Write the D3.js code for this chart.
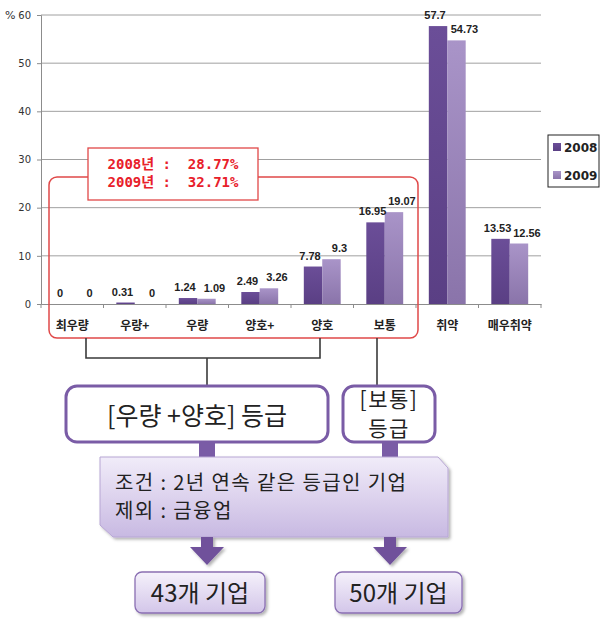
<!DOCTYPE html>
<html><head><meta charset="utf-8">
<script src="https://cdn.jsdelivr.net/npm/d3@7"></script>
<style>body{margin:0;background:#fff}svg{display:block}</style>
</head><body>
<svg id="c" width="604" height="620"></svg>
<script>
const categories = ["최우량","우량+","우량","양호+","양호","보통","취약","매우취약"];
const series = ["2008","2009"];
const values2008 = [0,0.31,1.24,2.49,7.78,16.95,57.7,13.53];
const values2009 = [0,0,1.09,3.26,9.3,19.07,54.73,12.56];
const yTicks = [0,10,20,30,40,50,60];
const summaryLines = ["2008년 :  28.77%","2009년 :  32.71%"];
const groupLabels = ["[우량 +양호] 등급", ["[보통]","등급"]];
const conditionLines = ["조건 : 2년 연속 같은 등급인 기업","제외 : 금융업"];
const resultLabels = ["43개 기업","50개 기업"];

(function(){
const font = "'Noto Sans CJK KR','Noto Sans',sans-serif";
const svg = d3.select("#c");
const defs = svg.append("defs");
function grad(id, c1, c2){
  const g = defs.append("linearGradient").attr("id",id).attr("x1",0).attr("y1",0).attr("x2",0).attr("y2",1);
  g.append("stop").attr("offset","0%").attr("stop-color",c1);
  g.append("stop").attr("offset","100%").attr("stop-color",c2);
}
grad("g2008","#6b4e98","#5a3f84");
grad("g2009","#a994c8","#8a74aa");
grad("gCond","#f1ecf9","#c8b9e2");
grad("gRes","#f5f1fb","#d3c6e9");
const sh = defs.append("filter").attr("id","shadow").attr("x","-10%").attr("y","-10%").attr("width","130%").attr("height","140%");
sh.append("feDropShadow").attr("dx",2).attr("dy",2).attr("stdDeviation",1.5).attr("flood-color","#000").attr("flood-opacity",0.3);

const mLeft = 41, mRight = 541, mTop = 15, mBottom = 304;
const x0 = d3.scaleBand().domain(categories).range([mLeft,mRight]).paddingInner(0.41).paddingOuter(0.205);
const x1 = d3.scaleBand().domain(series).range([0,x0.bandwidth()]);
const y = d3.scaleLinear().domain([0,60]).range([mBottom,mTop]);

// gridlines
svg.append("g").selectAll("line").data(yTicks.filter(d=>d>0)).join("line")
  .attr("x1",mLeft).attr("x2",mRight).attr("y1",d=>y(d)).attr("y2",d=>y(d))
  .attr("stroke","#a0a0a0").attr("stroke-width",1);

// y axis
const yAxis = svg.append("g").attr("transform",`translate(${mLeft},0)`)
  .call(d3.axisLeft(y).tickValues(yTicks).tickSize(4).tickPadding(6));
yAxis.select(".domain").attr("stroke","#8c8c8c");
yAxis.selectAll(".tick line").attr("stroke","#8c8c8c");
yAxis.selectAll("text").attr("font-family","'DejaVu Sans',sans-serif").attr("font-size",10).attr("fill","#333");
svg.append("text").attr("x",5).attr("y",19).attr("font-family","'DejaVu Sans',sans-serif").attr("font-size",11).attr("fill","#333").text("%");

// x axis
const xAxis = svg.append("g").attr("transform",`translate(0,${mBottom})`)
  .call(d3.axisBottom(x0).tickSize(0).tickPadding(17));
xAxis.select(".domain").attr("stroke","#8c8c8c");
xAxis.selectAll("text").attr("font-family",font).attr("font-size",12).attr("font-weight","bold").attr("fill","#222");
const step = x0.step();
svg.append("g").selectAll("line").data(d3.range(categories.length+1)).join("line")
  .attr("x1",d=>mLeft+d*step).attr("x2",d=>mLeft+d*step).attr("y1",mBottom).attr("y2",mBottom+4)
  .attr("stroke","#8c8c8c");

// bars
const data = categories.map((c,i)=>({c, vals:[{s:"2008",v:values2008[i]},{s:"2009",v:values2009[i]}]}));
const groups = svg.append("g").selectAll("g").data(data).join("g")
  .attr("transform",d=>`translate(${x0(d.c)},0)`);
groups.selectAll("rect").data(d=>d.vals).join("rect")
  .attr("x",d=>x1(d.s)).attr("width",x1.bandwidth())
  .attr("y",d=>y(d.v)).attr("height",d=>mBottom-y(d.v))
  .attr("fill",d=>`url(#g${d.s})`);
groups.selectAll("text").data(d=>d.vals).join("text")
  .attr("x",d=>x1(d.s)+x1.bandwidth()/2 + (d.s==="2008"?-3:8))
  .attr("y",d=>y(d.v)-7)
  .attr("text-anchor","middle").attr("font-family","'Liberation Sans',Arial,sans-serif")
  .attr("font-size",11).attr("font-weight","bold").attr("fill","#222")
  .text(d=>d.v);

// legend
const lg = svg.append("g");
lg.append("rect").attr("x",548).attr("y",135).attr("width",51).attr("height",52).attr("fill","#fff").attr("stroke","#222").attr("stroke-width",1);
series.forEach((s,i)=>{
  lg.append("rect").attr("x",553).attr("y",143+i*28).attr("width",8).attr("height",8).attr("fill",`url(#g${s})`);
  lg.append("text").attr("x",564).attr("y",152+i*28).attr("font-family","'DejaVu Sans',sans-serif").attr("font-size",12).attr("font-weight","bold").attr("fill","#222").text(s);
});

// red rounded rect around categories 0..5
svg.append("rect").attr("x",49).attr("y",177).attr("width",369).attr("height",161).attr("rx",8)
  .attr("fill","none").attr("stroke","#e04848").attr("stroke-width",1.5);
svg.append("rect").attr("x",88).attr("y",148).attr("width",170).attr("height",52)
  .attr("fill","#fff").attr("stroke","#e04848").attr("stroke-width",1.3);
summaryLines.forEach((t,i)=>{
  svg.append("text").attr("x",173).attr("y",169+i*18).attr("text-anchor","middle")
    .attr("font-family","'DejaVu Sans Mono','Noto Sans CJK KR',monospace").attr("font-size",14)
    .attr("font-weight","bold")
    .attr("fill","#e8202a").style("white-space","pre").text(t);
});

// bracket lines
const lc = "#3a3a3a";
const bracket = svg.append("g").attr("stroke",lc).attr("stroke-width",1.6).attr("fill","none");
bracket.append("path").attr("d","M86,338 V358 H320 V338");
bracket.append("line").attr("x1",207).attr("x2",207).attr("y1",358).attr("y2",386);
bracket.append("line").attr("x1",377).attr("x2",377).attr("y1",338).attr("y2",386);

// connector squares
svg.append("rect").attr("x",199).attr("y",442).attr("width",16).attr("height",17).attr("fill","#7a5ca6");
svg.append("rect").attr("x",382).attr("y",442).attr("width",16).attr("height",17).attr("fill","#7a5ca6");

// group boxes
svg.append("rect").attr("x",66).attr("y",386).attr("width",262).attr("height",56).attr("rx",11)
  .attr("fill","#fff").attr("stroke","#7a5ca6").attr("stroke-width",3);
svg.append("rect").attr("x",343).attr("y",386).attr("width",92).attr("height",56).attr("rx",11)
  .attr("fill","#fff").attr("stroke","#7a5ca6").attr("stroke-width",3);
svg.append("text").attr("x",197).attr("y",425).attr("text-anchor","middle")
  .attr("font-family",font).attr("font-size",25).attr("fill","#222").text(groupLabels[0]);
groupLabels[1].forEach((t,i)=>{
  svg.append("text").attr("x",389).attr("y",407+i*29).attr("text-anchor","middle")
    .attr("font-family",font).attr("font-size",21).attr("letter-spacing",1.5).attr("fill","#222").text(t);
});

// condition box (beveled)
svg.append("path").attr("d","M100,457 H438 L448,468 V537 H113 L100,525 Z")
  .attr("fill","url(#gCond)").attr("stroke","#b7a6d4").attr("stroke-width",1).attr("filter","url(#shadow)");
conditionLines.forEach((t,i)=>{
  svg.append("text").attr("x",115).attr("y",490+i*28)
    .attr("font-family",font).attr("font-size",20).attr("letter-spacing",1.4).attr("fill","#222").text(t);
});

// arrows
[207,390].forEach(ax=>{
  svg.append("path").attr("d",`M${ax-6},537 H${ax+6} V547 H${ax+17} L${ax},565 L${ax-17},547 H${ax-6} Z`)
    .attr("fill","#6f519b").attr("filter","url(#shadow)");
});

// result boxes
[[135,265],[335,462]].forEach(([a,b],i)=>{
  svg.append("rect").attr("x",a).attr("y",572).attr("width",b-a).attr("height",41).attr("rx",7)
    .attr("fill","url(#gRes)").attr("stroke","#8a6fb3").attr("stroke-width",1.3).attr("filter","url(#shadow)");
  svg.append("text").attr("x",(a+b)/2).attr("y",602).attr("text-anchor","middle")
    .attr("font-family",font).attr("font-size",24).attr("fill","#222").text(resultLabels[i]);
});
})();
</script>
</body></html>
